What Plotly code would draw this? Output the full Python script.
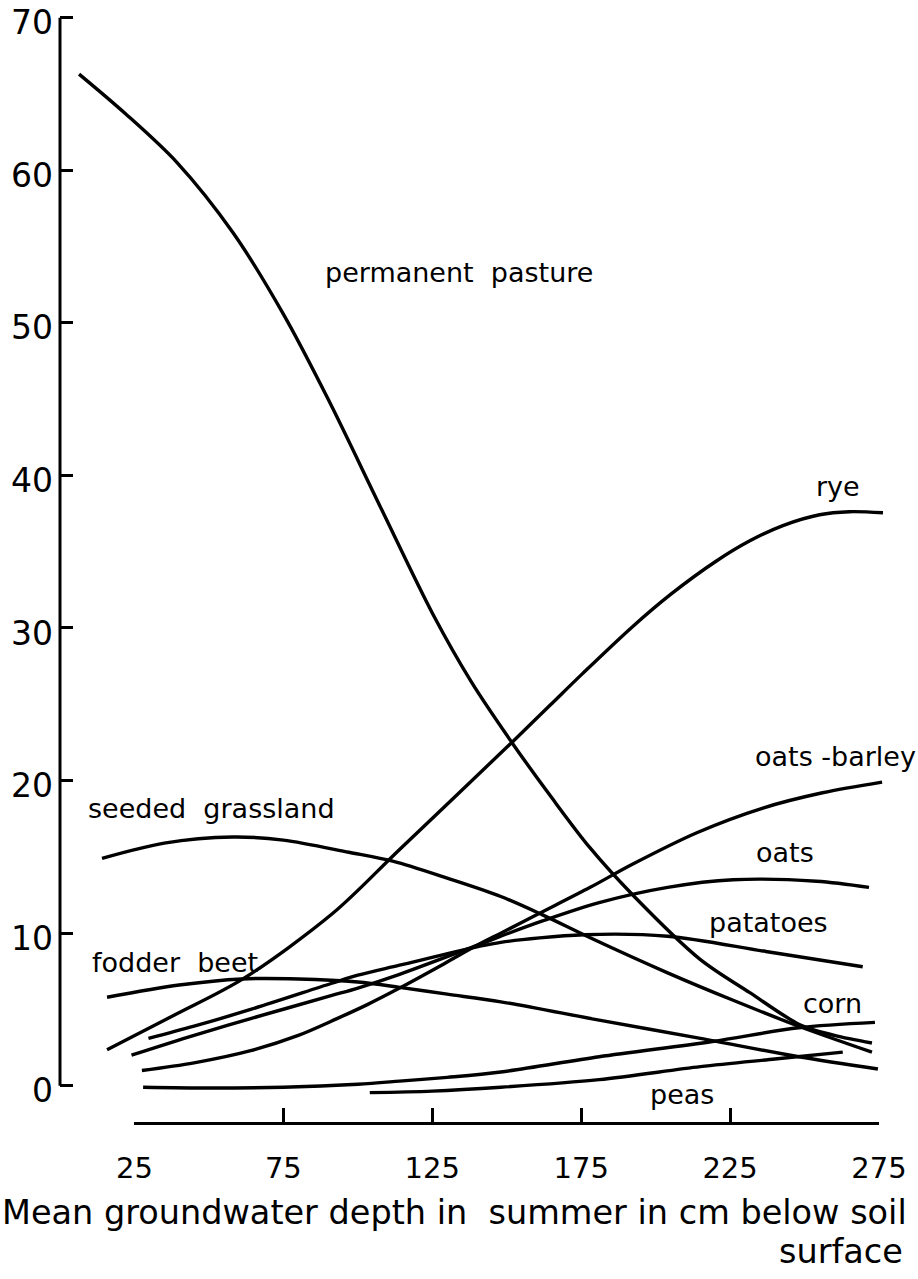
import plotly.graph_objects as go

# ---- data ----
pasture_x = [6.4, 22, 39.3, 58.1, 74.9, 90, 107.4, 125.2, 138, 151.7, 165, 177.9, 192.3, 214.8, 231.6, 248.4, 260, 272.6]
pasture_y = [66.3, 63.7, 60.5, 55.9, 50.6, 45.0, 38.0, 30.9, 26.5, 22.5, 18.9, 15.6, 12.5, 8.3, 6.1, 4.0, 3.3, 2.8]

rye_x = [15.8, 38.6, 61.4, 91.6, 114.1, 151.7, 164.5, 175.6, 192.3, 205, 220, 231.6, 242.7, 255, 265, 276.3]
rye_y = [2.36, 4.65, 7.0, 11.3, 15.5, 22.5, 24.93, 27.04, 30.1, 32.2, 34.34, 35.71, 36.71, 37.42, 37.62, 37.55]

seeded_x = [14.1, 35, 58, 75, 97, 112, 130, 148, 162, 178, 204, 226, 248, 272.6]
seeded_y = [14.9, 15.9, 16.3, 16.1, 15.3, 14.7, 13.6, 12.4, 11.2, 9.7, 7.4, 5.6, 3.9, 2.2]

fodder_x = [15.8, 40, 61, 80, 100, 114, 130, 148, 181, 215, 248, 274.6]
fodder_y = [5.8, 6.6, 7.0, 7.0, 6.8, 6.45, 6.0, 5.5, 4.3, 3.1, 1.9, 1.1]

oatsbarley_x = [27.5, 45, 64, 80, 93, 103, 114, 129, 140, 148, 161, 178, 192, 214, 236, 256, 276]
oatsbarley_y = [1.0, 1.5, 2.3, 3.3, 4.4, 5.3, 6.4, 8.0, 9.2, 10.0, 11.3, 13.0, 14.5, 16.6, 18.2, 19.2, 19.9]

oats_x = [24, 45, 64, 91, 100, 114, 140, 148, 162, 181, 204, 226, 254, 271.6]
oats_y = [2.0, 3.3, 4.4, 5.9, 6.4, 7.3, 9.2, 9.8, 10.8, 12.0, 13.0, 13.5, 13.4, 13.0]

patatoes_x = [29.7, 45, 64, 91, 100, 114, 140, 148, 176, 204, 237, 269.5]
patatoes_y = [3.1, 3.9, 5.0, 6.7, 7.25, 7.9, 9.1, 9.4, 9.9, 9.8, 8.8, 7.8]

corn_x = [27.9, 50, 75, 100, 114, 130, 148, 181, 219, 248, 273.6]
corn_y = [-0.1, -0.15, -0.1, 0.1, 0.3, 0.55, 0.9, 1.9, 2.9, 3.8, 4.15]

peas_x = [104, 125, 148, 181, 215, 240, 262.8]
peas_y = [-0.45, -0.35, -0.1, 0.4, 1.25, 1.75, 2.2]

series = [
    (pasture_x, pasture_y), (rye_x, rye_y), (seeded_x, seeded_y), (fodder_x, fodder_y),
    (oatsbarley_x, oatsbarley_y), (oats_x, oats_y), (patatoes_x, patatoes_y),
    (corn_x, corn_y), (peas_x, peas_y),
]

label_text = ["permanent  pasture", "rye", "seeded  grassland", "fodder  beet", "oats -barley",
              "oats", "patatoes", "corn", "peas"]
label_x = [133.9, 261.2, 50.7, 38.6, 260.2, 243.4, 237.7, 259.5, 208.8]
label_y = [53.3, 39.3, 18.2, 8.1, 21.6, 15.3, 10.7, 5.4, -0.6]

x_ticks = [25, 75, 125, 175, 225, 275]
y_ticks = [0, 10, 20, 30, 40, 50, 60, 70]

FONT = "DejaVu Sans"

fig = go.Figure()
for sx, sy in series:
    fig.add_trace(go.Scatter(
        x=sx, y=sy, mode="lines",
        line=dict(color="black", width=3.4, shape="spline", smoothing=0.9),
        showlegend=False, hoverinfo="skip",
    ))

# dummy trace to carry the visible (offset) x axis
fig.add_trace(go.Scatter(x=[25, 275], y=[None, None], xaxis="x2", yaxis="y",
                         mode="lines", showlegend=False, hoverinfo="skip"))

for t, lx, ly in zip(label_text, label_x, label_y):
    fig.add_annotation(x=lx, y=ly, xref="x", yref="y", text=t, showarrow=False,
                       font=dict(family=FONT, size=27, color="black"))

fig.add_annotation(x=-0.0719, y=-0.0800, xref="paper", yref="paper", xanchor="left",
                   yanchor="middle", showarrow=False,
                   text="Mean groundwater depth in  summer in cm below soil",
                   font=dict(family=FONT, size=33.5, color="black"))
fig.add_annotation(x=1.0132, y=-0.1159, xref="paper", yref="paper", xanchor="right",
                   yanchor="middle", showarrow=False, text="surface",
                   font=dict(family=FONT, size=33.5, color="black"))

# y axis line from 0 to 70 only
fig.add_shape(type="line", xref="paper", yref="y", x0=0, x1=0, y0=0, y1=70,
              line=dict(color="black", width=3))

fig.update_layout(
    width=918, height=1279, autosize=False,
    margin=dict(l=60, r=24, t=10, b=156, pad=0, autoexpand=False),
    paper_bgcolor="white", plot_bgcolor="rgba(0,0,0,0)",
    font=dict(family=FONT, color="black"),
    xaxis=dict(range=[0, 280], visible=False, domain=[0, 1]),
    xaxis2=dict(range=[25, 275], domain=[0.0893, 0.982], anchor="free", position=0,
                showline=True, linecolor="black", linewidth=3,
                ticks="inside", ticklen=14, tickwidth=2.5, tickcolor="black",
                tickvals=x_ticks, ticktext=[str(v) for v in x_ticks],
                tickfont=dict(family=FONT, size=29, color="black"),
                ticklabelstandoff=18, ticklabeloverflow="allow",
                showgrid=False, zeroline=False),
    yaxis=dict(range=[-1, 70.5], domain=[0.01977, 1], anchor="x",
               showline=False, showgrid=False, zeroline=False,
               ticks="inside", ticklen=13, tickwidth=2.5, tickcolor="black",
               tickvals=y_ticks, ticktext=[str(v) for v in y_ticks],
               ticklabelstandoff=6, ticklabelshift=5, ticklabeloverflow="allow",
               tickfont=dict(family=FONT, size=33, color="black")),
)

fig.write_html("out.html")
